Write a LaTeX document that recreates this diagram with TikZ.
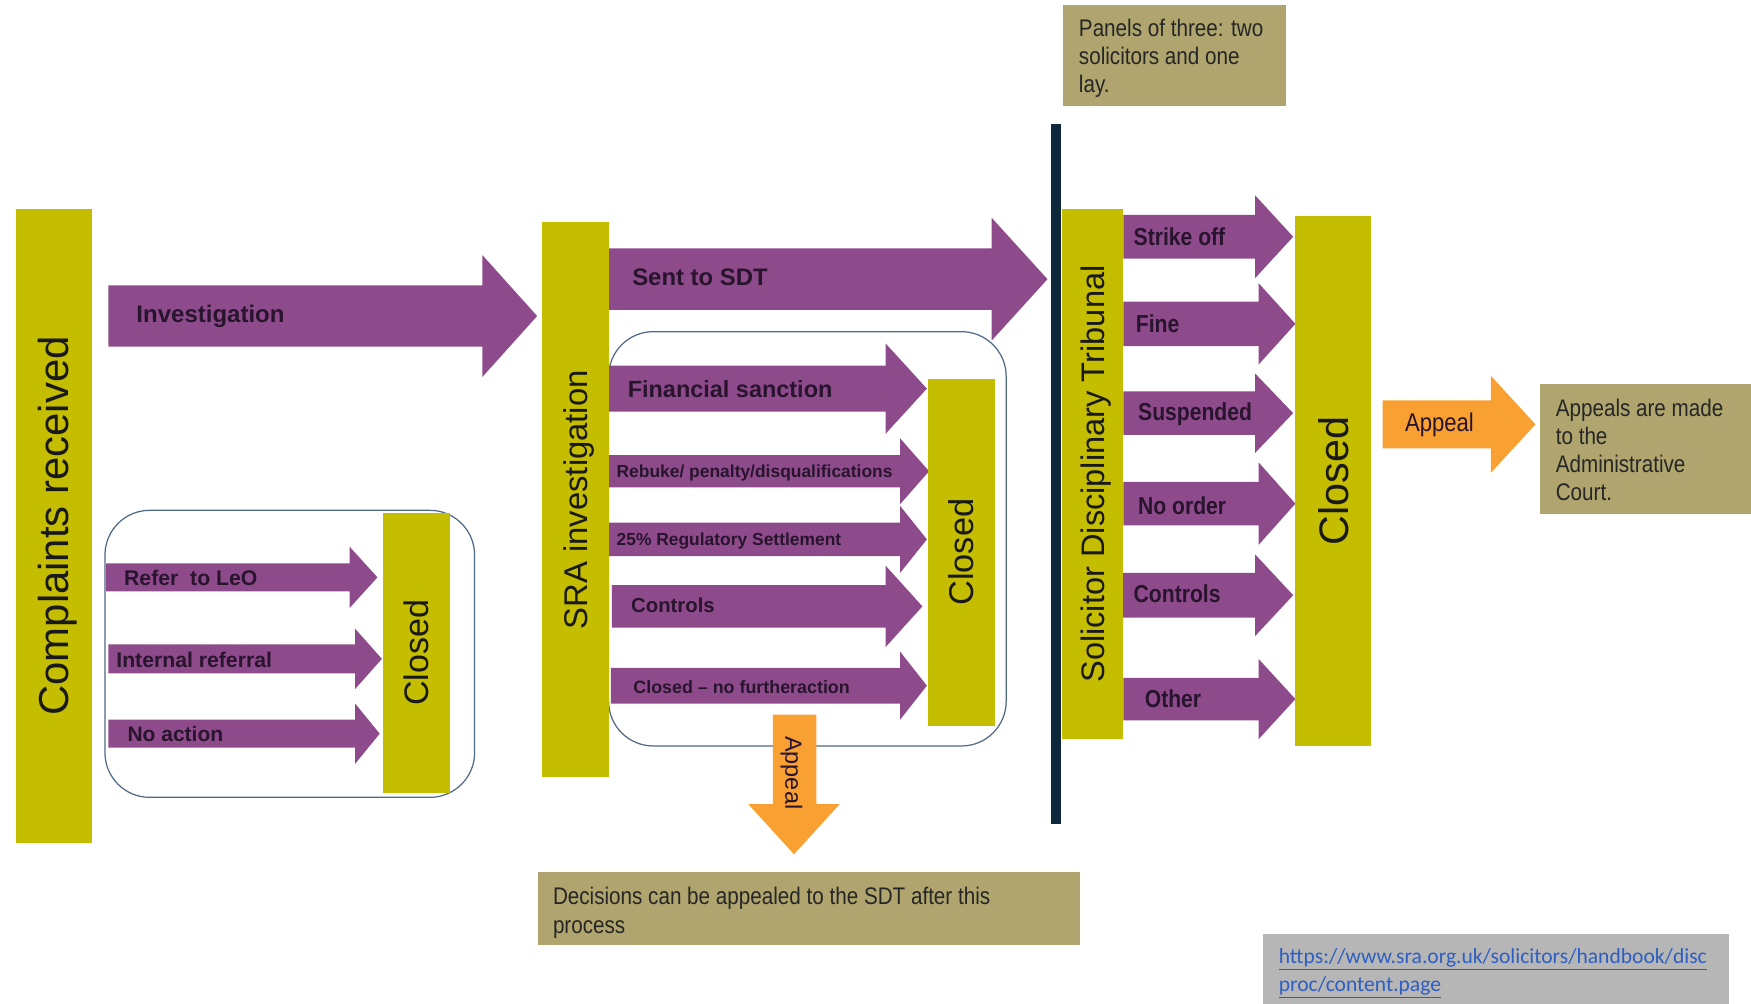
\documentclass[tikz,border=0pt]{standalone}
\usepackage{fontspec}
\setmainfont{Liberation Sans}
\newfontfamily\narrowfont[FakeStretch=0.86]{Liberation Sans}
\newfontfamily\calfont{Carlito}
\definecolor{cOlive}{RGB}{197,189,0}
\definecolor{cPurp}{RGB}{142,75,140}
\definecolor{cOrange}{RGB}{248,160,50}
\definecolor{cKhaki}{RGB}{176,165,110}
\definecolor{cUrlGray}{RGB}{182,182,182}
\definecolor{cNavy}{RGB}{12,40,58}
\definecolor{cBoxLine}{RGB}{80,105,135}
\definecolor{cLbl}{RGB}{40,20,45}
\definecolor{cUrlBlue}{RGB}{45,95,195}
\newcommand{\myfs}[2]{\fontsize{#1}{#2}\selectfont}
% style, x0, xbase, xtip, ycenter, shaft half, head half
\newcommand{\blockarrow}[7]{%
  \fill[#1] (#2,#5-#6) -- (#3,#5-#6) -- (#3,#5-#7) -- (#4,#5) -- (#3,#5+#7) -- (#3,#5+#6) -- (#2,#5+#6) -- cycle;}
\begin{document}
\begin{tikzpicture}[x=1pt,y=-1pt,
  bar/.style={fill=cOlive, inner sep=0pt, text=black!90, text depth=0pt},
  lbl/.style={anchor=west, inner sep=0pt, text depth=0pt, text=cLbl},
  roundbox/.style={draw=cBoxLine, line width=1.1pt, rounded corners=40pt},
  notebox/.style={fill=cKhaki, anchor=north west, inner sep=0pt},
  notetext/.style={anchor=north west, inner sep=0pt, align=left, text=black!85, font=\narrowfont\myfs{21.5}{25}},
  purpfill/.style={fill=cPurp},
  orfill/.style={fill=cOrange}]
\useasboundingbox (0,0) rectangle (1568,899);
\fill[white] (0,0) rectangle (1568,899);

% rounded group boxes
\draw[roundbox] (94,457) rectangle (425,714);
\draw[roundbox] (545,297) rectangle (901,668);

% purple block arrows
\blockarrow{purpfill}{97}{432}{481}{283}{27.5}{54.5}
\blockarrow{purpfill}{543}{888}{938}{250}{27.5}{55}
\blockarrow{purpfill}{95}{313}{338}{517}{12.5}{27.5}
\blockarrow{purpfill}{97}{318}{342}{590}{13}{27}
\blockarrow{purpfill}{97}{318}{340}{657}{12.5}{27}
\blockarrow{purpfill}{545}{793}{830}{348}{20.5}{40.5}
\blockarrow{purpfill}{545}{806}{832}{422}{14.5}{29.5}
\blockarrow{purpfill}{545}{806}{830}{483}{15}{30}
\blockarrow{purpfill}{548}{793}{826}{543}{19}{36.5}
\blockarrow{purpfill}{547}{806}{830}{614}{16}{30.5}
\blockarrow{purpfill}{1006}{1124}{1158}{212}{19.5}{37}
\blockarrow{purpfill}{1006}{1127}{1160}{290}{20}{36.5}
\blockarrow{purpfill}{1006}{1124}{1158}{370}{19.5}{35.5}
\blockarrow{purpfill}{1006}{1127}{1160}{451}{19.5}{37}
\blockarrow{purpfill}{1004}{1124}{1158}{533}{20}{36.5}
\blockarrow{purpfill}{1006}{1127}{1160}{626}{19}{36}

% dark tribunal line
\fill[cNavy] (941,111) rectangle (950,738);

% olive bars
\node[bar, rotate=90, minimum width=568pt, minimum height=68pt, font=\myfs{37.5}{40}] (cr) at (48,471) {Complaints received};
\node[bar, rotate=90, minimum width=497pt, minimum height=60pt, font=\myfs{29.4}{32}] (sra) at (515,447.5) {SRA investigation};
\node[bar, rotate=90, minimum width=475pt, minimum height=55pt, font=\myfs{29.2}{32}] (sdt) at (978.5,424.5) {Solicitor Disciplinary Tribunal};
\node[bar, rotate=90, minimum width=475pt, minimum height=68pt, font=\myfs{37}{40}] (closedR) at (1194,430.5) {Closed};
\node[bar, rotate=90, minimum width=311pt, minimum height=60pt, font=\myfs{30.8}{33}] (closedM) at (861,494.5) {Closed};
\node[bar, rotate=90, minimum width=251pt, minimum height=60pt, font=\myfs{30.5}{33}] (closedL) at (373,584.5) {Closed};

% orange arrows
\fill[cOrange] (692,640) -- (731,640) -- (731,720) -- (752,720) -- (711,765) -- (670,720) -- (692,720) -- cycle;
\blockarrow{orfill}{1238}{1335}{1375}{380}{21.5}{43.5}
\node[rotate=-90, inner sep=0pt, text depth=0pt, text=cLbl, font=\myfs{21}{24}] (appealD) at (711,692) {Appeal};
\node[lbl, font=\narrowfont\myfs{23}{25}] (appealR) at (1258,378) {Appeal};

% arrow labels
\node[lbl, font=\myfs{21.5}{24}\bfseries] (linv) at (122,281) {Investigation};
\node[lbl, font=\myfs{21.4}{24}\bfseries] (lsent) at (566,248) {Sent to SDT};
\node[lbl, font=\myfs{19}{22}\bfseries] (lleo) at (111,517) {Refer\ \ to LeO};
\node[lbl, font=\myfs{19}{22}\bfseries] (lint) at (104,591) {Internal referral};
\node[lbl, font=\myfs{18.8}{22}\bfseries] (lnoa) at (114,657) {No action};
\node[lbl, font=\myfs{21}{24}\bfseries] (lfin) at (562,348) {Financial sanction};
\node[lbl, font=\myfs{15.6}{18}\bfseries] (lreb) at (552,422) {Rebuke/ penalty/disqualifications};
\node[lbl, font=\myfs{15.6}{18}\bfseries] (lreg) at (552,483) {25\% Regulatory Settlement};
\node[lbl, font=\myfs{18.2}{21}\bfseries] (lconM) at (565,542) {Controls};
\node[lbl, font=\myfs{16}{19}\bfseries] (lcnf) at (567,615) {Closed – no furtheraction};
\node[lbl, font=\narrowfont\myfs{22}{25}\bfseries] (lstr) at (1015,212) {Strike off};
\node[lbl, font=\narrowfont\myfs{22}{25}\bfseries] (lfine) at (1017,290) {Fine};
\node[lbl, font=\narrowfont\myfs{22}{25}\bfseries] (lsus) at (1019,369) {Suspended};
\node[lbl, font=\narrowfont\myfs{22}{25}\bfseries] (lnoo) at (1019,453) {No order};
\node[lbl, font=\narrowfont\myfs{22}{25}\bfseries] (lconR) at (1015,532) {Controls};
\node[lbl, font=\narrowfont\myfs{22}{25}\bfseries] (loth) at (1025,626) {Other};

% note boxes
\node[notebox, minimum width=199pt, minimum height=91pt] (panelbox) at (952,4) {};
\node[notetext] (paneltext) at (966,17) {Panels of three: two\\solicitors and one\\lay.};
\node[notebox, minimum width=189pt, minimum height=116pt] (courtbox) at (1379,344) {};
\node[notetext] (courttext) at (1393,357) {Appeals are made\\to the\\Administrative\\Court.};
\node[notebox, minimum width=485pt, minimum height=65pt] (decbox) at (482,781) {};
\node[notetext, font=\narrowfont\myfs{21.5}{26}] (dectext) at (495,794) {Decisions can be appealed to the SDT after this\\process};
\node[fill=cUrlGray, anchor=north west, inner sep=0pt, minimum width=417pt, minimum height=63pt] (urlbox) at (1131,836) {};
\node[anchor=north west, inner sep=0pt, align=left, text=cUrlBlue, font=\calfont\myfs{19.3}{25}] (urltext) at (1145,849.5) {\underline{https://www.sra.org.uk/solicitors/handbook/disc}\\\underline{proc/content.page}};
\end{tikzpicture}
\end{document}
